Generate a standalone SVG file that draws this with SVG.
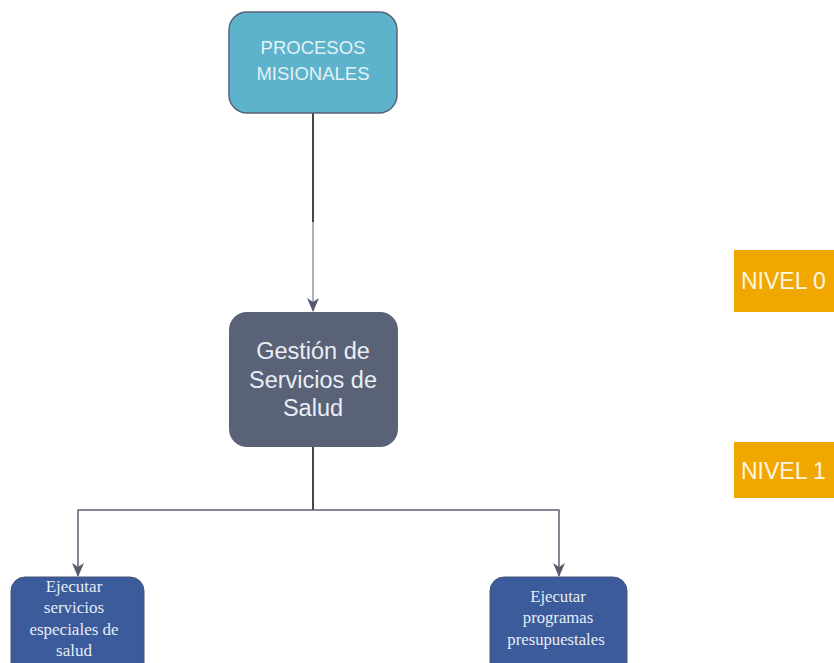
<svg xmlns="http://www.w3.org/2000/svg" width="834" height="663" viewBox="0 0 834 663">
<style>
.sans{font-family:"Liberation Sans",Arial,sans-serif}
.serif{font-family:"Liberation Serif","Times New Roman",serif}
.conn{fill:none;stroke:#5d6376;stroke-width:1.5}
.lvl{fill:#f0a800}
.lvltxt{fill:#fff6e0;font-size:23px}
</style>
<defs>
<marker id="arr" viewBox="0 0 14 12" refX="13" refY="6" markerWidth="14" markerHeight="12" markerUnits="userSpaceOnUse" orient="auto">
<path d="M0,0 L14,6 L0,12 L4,6 z" fill="#555b6e"/>
</marker>
</defs>
<rect width="834" height="663" fill="#ffffff"/>
<g id="connectors">
<line x1="313" y1="113" x2="313" y2="222" stroke="#444" stroke-width="2"/>
<line x1="313" y1="222" x2="313" y2="311" stroke="#8d96ab" stroke-width="1.5" marker-end="url(#arr)"/>
<line x1="313" y1="447" x2="313" y2="510" stroke="#333" stroke-width="1.8"/>
<path class="conn" d="M313,510 H78 V576" marker-end="url(#arr)"/>
<path class="conn" d="M313,510 H559 V576" marker-end="url(#arr)"/>
</g>
<g id="procesos">
<rect x="229" y="12" width="168" height="101" rx="18" fill="#5db3cc" stroke="#5a6078" stroke-width="1.5"/>
<text class="sans" x="313" y="54" font-size="18.5" fill="#e4f1f5" text-anchor="middle">PROCESOS</text>
<text class="sans" x="313" y="80" font-size="18.5" fill="#e4f1f5" text-anchor="middle">MISIONALES</text>
</g>
<g id="gestion">
<rect x="229" y="312" width="169" height="135" rx="18" fill="#5a6278"/>
<text class="sans" x="313" y="359" font-size="23.5" fill="#eaeef5" text-anchor="middle">Gestión de</text>
<text class="sans" x="313" y="388" font-size="23.5" fill="#eaeef5" text-anchor="middle">Servicios de</text>
<text class="sans" x="313" y="416" font-size="23.5" fill="#eaeef5" text-anchor="middle">Salud</text>
</g>
<g id="ejecutar-servicios">
<rect x="11" y="577" width="133" height="100" rx="14" fill="#3b5b9a" stroke="#4a5576" stroke-width="1"/>
<text class="serif" x="74" y="592" font-size="17" fill="#e6ecf6" text-anchor="middle">Ejecutar</text>
<text class="serif" x="74" y="613" font-size="17" fill="#e6ecf6" text-anchor="middle">servicios</text>
<text class="serif" x="74" y="635" font-size="17" fill="#e6ecf6" text-anchor="middle">especiales de</text>
<text class="serif" x="74" y="656" font-size="17" fill="#e6ecf6" text-anchor="middle">salud</text>
</g>
<g id="ejecutar-programas">
<rect x="490" y="577" width="137" height="100" rx="14" fill="#3b5b9a" stroke="#4a5576" stroke-width="1"/>
<text class="serif" x="558" y="602" font-size="16.7" fill="#e6ecf6" text-anchor="middle">Ejecutar</text>
<text class="serif" x="558" y="623" font-size="16.7" fill="#e6ecf6" text-anchor="middle">programas</text>
<text class="serif" x="556" y="645" font-size="16.7" fill="#e6ecf6" text-anchor="middle">presupuestales</text>
</g>
<g id="nivel0">
<rect class="lvl" x="734" y="250" width="100" height="62"/>
<text class="sans lvltxt" x="741" y="289">NIVEL 0</text>
</g>
<g id="nivel1">
<rect class="lvl" x="734" y="442" width="100" height="56"/>
<text class="sans lvltxt" x="741" y="479">NIVEL 1</text>
</g>
</svg>
